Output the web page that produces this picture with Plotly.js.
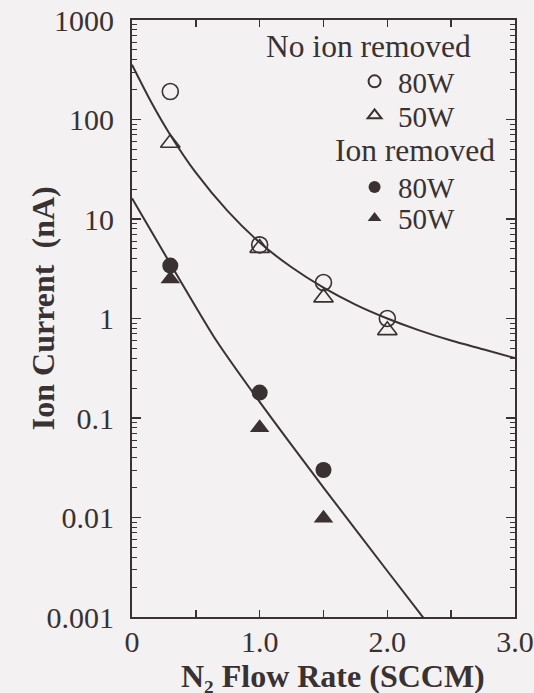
<!DOCTYPE html>
<html>
<head>
<meta charset="utf-8">
<script src="https://cdn.plot.ly/plotly-3.0.1.min.js"></script>
<style>
  html, body { margin: 0; padding: 0; background: #f3f1f1; }
  #chart { width: 534px; height: 693px; }
</style>
</head>
<body>
<div id="chart"></div>
<script>
// N2 flow rate (SCCM) for measured points
const flowRate = [0.3, 1.0, 1.5, 2.0];
const flowRateRemoved = [0.3, 1.0, 1.5];

// Ion current (nA), no ion removed
const noRemoved80W = [191, 5.5, 2.3, 1.0];
const noRemoved50W = [58, 5.1, 1.62, 0.76];

// Ion current (nA), ion removed
const removed80W = [3.4, 0.18, 0.030];
const removed50W = [2.5, 0.08, 0.0098];

// Fitted curves
const fitUpperX = [0, 0.15, 0.3, 0.5, 0.75, 1.0, 1.25, 1.5, 1.75, 2.0, 2.25, 2.5, 2.75, 3.0];
const fitUpperY = [355, 150, 70, 29.2, 12.0, 5.8, 3.27, 2.04, 1.38, 1.0, 0.76, 0.60, 0.49, 0.40];
const fitLowerX = [0, 0.3, 0.65, 1.0, 1.5, 2.0, 2.32];
const fitLowerY = [16.2, 3.55, 0.63, 0.145, 0.02, 0.0029, 0.00085];

// Tick labels
const xTickVals = [0, 1, 2, 3];
const xTickText = ['0', '1.0', '2.0', '3.0'];
const yTickVals = [0.001, 0.01, 0.1, 1, 10, 100, 1000];
const yTickText = ['0.001', '0.01', '0.1', '1', '10', '100', '1000'];

// Texts
const groupTitles = ['No ion removed', 'Ion removed'];
const powerLabels = ['80W', '50W'];
const xTitle = 'N\u2082 Flow Rate (SCCM)';
const yTitle = 'Ion Current  (nA)';

const ink = '#3a3132';
const bg = '#f3f1f1';
const serif = 'Liberation Serif, Times New Roman, serif';

const traces = [
  {x: fitUpperX, y: fitUpperY, mode: 'lines', line: {color: ink, width: 2, shape: 'spline', smoothing: 0.8}, showlegend: false, hoverinfo: 'skip'},
  {x: fitLowerX, y: fitLowerY, mode: 'lines', line: {color: ink, width: 2, shape: 'spline', smoothing: 0.6}, showlegend: false, hoverinfo: 'skip'},
  {x: flowRate, y: noRemoved80W, mode: 'markers', name: powerLabels[0], legend: 'legend',
   marker: {symbol: 'circle-open', size: 16, color: ink, line: {width: 1.6, color: ink}}},
  {x: flowRate, y: noRemoved50W, mode: 'markers', name: powerLabels[1], legend: 'legend2',
   marker: {symbol: 'triangle-up-open', size: 17, color: ink, line: {width: 1.6, color: ink}}},
  {x: flowRateRemoved, y: removed80W, mode: 'markers', name: powerLabels[0], legend: 'legend3',
   marker: {symbol: 'circle', size: 16, color: ink}},
  {x: flowRateRemoved, y: removed50W, mode: 'markers', name: powerLabels[1], legend: 'legend4',
   marker: {symbol: 'triangle-up', size: 17, color: ink}}
];

function legendAt(y) {
  return {
    x: 0.572, xanchor: 'left', y: y, yanchor: 'middle',
    bgcolor: 'rgba(0,0,0,0)', borderwidth: 0,
    font: {family: serif, size: 29, color: ink},
    itemsizing: 'constant', itemwidth: 37
  };
}

const layout = {
  width: 534, height: 693,
  margin: {l: 132, r: 19, t: 20, b: 76},
  paper_bgcolor: bg, plot_bgcolor: bg,
  font: {family: serif, color: ink, size: 29},
  showlegend: true,
  legend: legendAt(0.897),
  legend2: legendAt(0.840),
  legend3: legendAt(0.720),
  legend4: legendAt(0.668),
  xaxis: {
    range: [0, 3], tickvals: xTickVals, ticktext: xTickText,
    ticks: 'inside', ticklen: 7, tickwidth: 1.5, tickcolor: ink,
    minor: {dtick: 0.5, tick0: 0, ticks: 'inside', ticklen: 7, tickwidth: 1.5, tickcolor: ink},
    showline: true, linecolor: ink, linewidth: 2, mirror: 'ticks',
    showgrid: false, zeroline: false, ticklabelstandoff: -3,
    tickfont: {family: serif, size: 30, color: ink}
  },
  yaxis: {
    type: 'log', range: [-3, 3], tickvals: yTickVals, ticktext: yTickText,
    ticks: 'inside', ticklen: 9, tickwidth: 1.5, tickcolor: ink,
    minor: {dtick: 'D1', ticks: 'inside', ticklen: 5, tickwidth: 1, tickcolor: ink},
    showline: true, linecolor: ink, linewidth: 2, mirror: 'ticks',
    showgrid: false, zeroline: false, ticklabelstandoff: 10,
    tickfont: {family: serif, size: 30, color: ink}
  },
  annotations: [
    {xref: 'paper', yref: 'paper', x: 0.890, y: 0.955, xanchor: 'right', yanchor: 'middle',
     text: groupTitles[0], showarrow: false, font: {family: serif, size: 31.5, color: ink}},
    {xref: 'paper', yref: 'paper', x: 0.953, y: 0.781, xanchor: 'right', yanchor: 'middle',
     text: groupTitles[1], showarrow: false, font: {family: serif, size: 31.5, color: ink}},
    {xref: 'paper', yref: 'paper', x: 0.525, y: -0.099, xanchor: 'center', yanchor: 'middle',
     text: xTitle, showarrow: false, font: {family: serif, size: 32, color: ink, weight: 'bold'}},
    {xref: 'paper', yref: 'paper', x: -0.232, y: 0.5176, xanchor: 'center', yanchor: 'middle',
     textangle: -90, text: yTitle, showarrow: false, font: {family: serif, size: 32, color: ink, weight: 'bold'}}
  ]
};

Plotly.newPlot('chart', traces, layout, {displayModeBar: false, staticPlot: true});
</script>
</body>
</html>
